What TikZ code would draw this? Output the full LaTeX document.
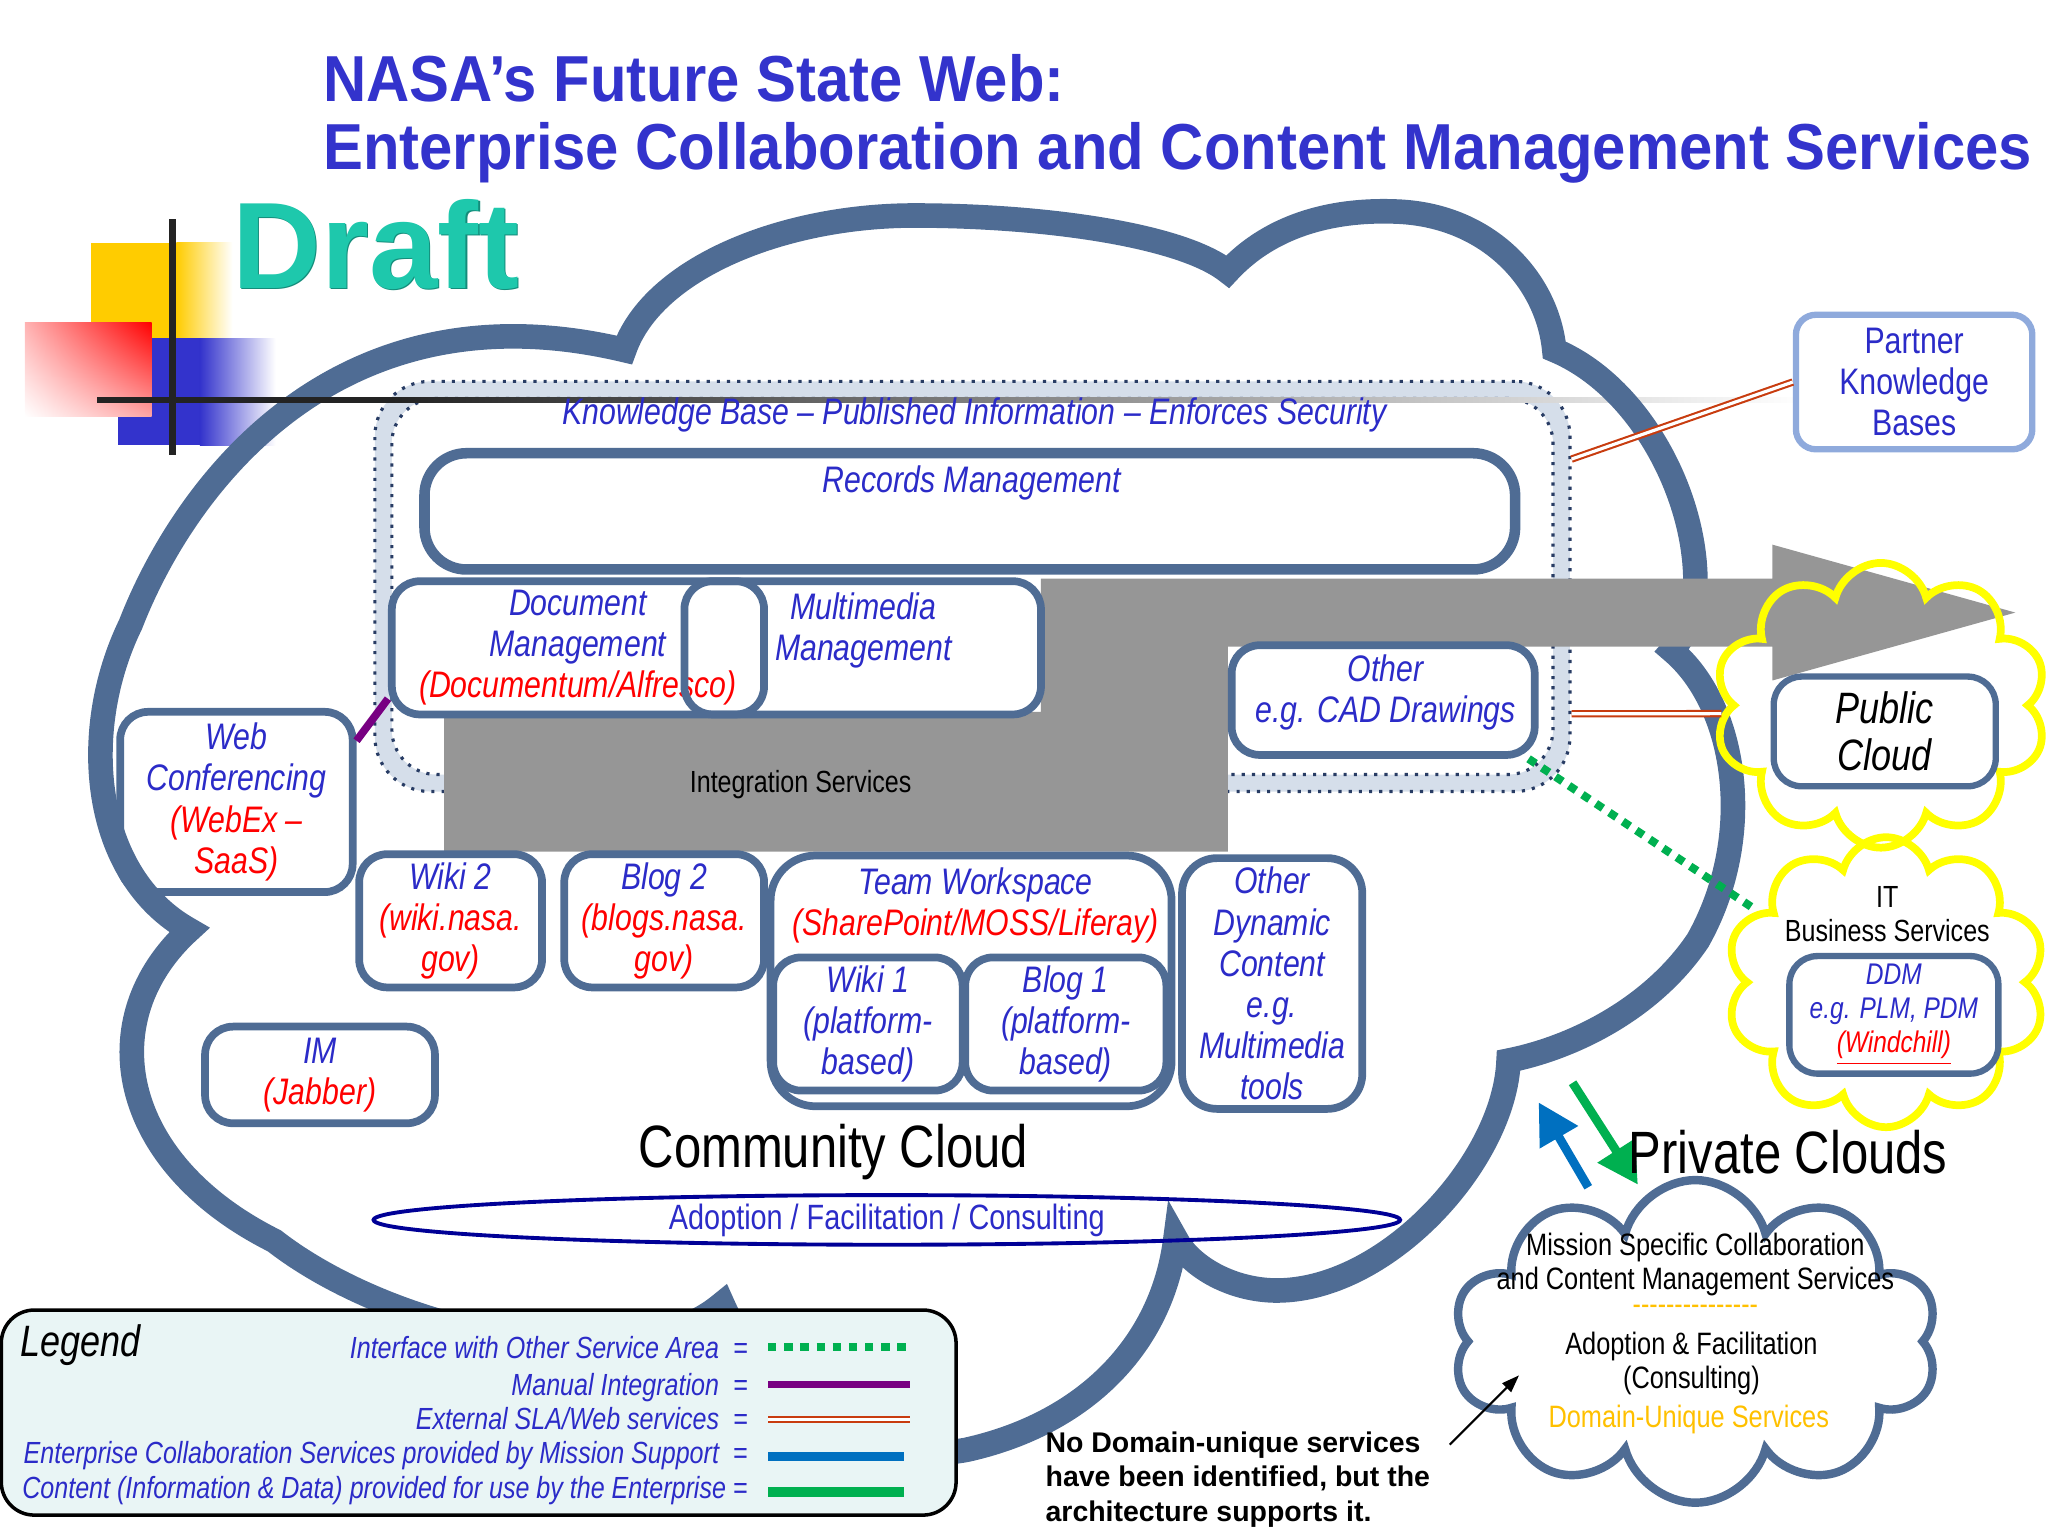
\documentclass[tikz,border=0pt]{standalone}
\usepackage{fontspec}
\setmainfont{Liberation Sans}
\newfontfamily\narrowfont[FakeStretch=0.82]{Liberation Sans}
\newfontfamily\titlefont[FakeStretch=0.92]{Liberation Sans}
\usetikzlibrary{positioning,arrows.meta,shapes.geometric,shapes.symbols,shadings}
\definecolor{CloudBlue}{RGB}{79,108,148}
\definecolor{TitleBlue}{RGB}{51,51,204}
\definecolor{LabelBlue}{RGB}{43,43,200}
\definecolor{LabelRed}{RGB}{255,0,0}
\definecolor{KBFill}{RGB}{213,222,234}
\definecolor{KBDot}{RGB}{40,60,100}
\definecolor{IntGray}{RGB}{150,150,150}
\definecolor{SLARed}{RGB}{200,60,15}
\definecolor{IfaceGreen}{RGB}{0,176,80}
\definecolor{MgmtPurple}{RGB}{120,0,130}
\definecolor{EntBlue}{RGB}{0,112,192}
\definecolor{LegendFill}{RGB}{233,245,245}
\definecolor{DraftTeal}{RGB}{30,200,172}
\definecolor{DraftEdge}{RGB}{20,140,122}
\definecolor{PartnerBlue}{RGB}{143,170,220}
\definecolor{DomainGold}{RGB}{255,192,0}
\definecolor{EllipseNavy}{RGB}{0,0,150}
\definecolor{CloudYellow}{RGB}{255,255,0}
\definecolor{LogoYellow}{RGB}{255,204,0}
\definecolor{LogoBlue}{RGB}{51,51,204}
\definecolor{LogoBlack}{RGB}{35,35,35}
\newcommand{\pxu}{0.013061cm}
\newcommand{\rd}[1]{\textcolor{LabelRed}{#1}}
\newcommand{\lblfont}{\narrowfont\itshape\fontsize{10.5pt}{11.7pt}\selectfont}

\begin{document}
\begin{tikzpicture}[x=0.013061cm, y=-0.013061cm,
wh/.style 2 args={minimum width=#1*\pxu, minimum height=#2*\pxu},
svcbox/.style={draw=CloudBlue, line width=2.2pt, rounded corners=0.28cm, fill=white, inner sep=0pt, align=center, font=\lblfont, text=LabelBlue},
lbltext/.style={font=\lblfont, text=LabelBlue, align=center, inner sep=0pt},
kbband/.style={draw=KBDot, dotted, line width=0.9pt, fill=KBFill, rounded corners=0.55cm, inner sep=0pt},
cloudline/.style={draw=CloudBlue, line width=7pt, line join=miter},
puff/.style={cloud, cloud puffs=10, cloud ignores aspect, inner sep=0pt, line width=2.2pt},
sla/.style={draw=SLARed, line width=0.6pt, double=white, double distance=0.9pt},
iface/.style={draw=IfaceGreen, line width=2.3pt, dash pattern=on 2.4pt off 2.2pt},
manual/.style={draw=MgmtPurple, line width=2.2pt},
plainlbl/.style={font=\narrowfont\fontsize{8.7pt}{9.7pt}\selectfont, align=center, inner sep=0pt},
legtext/.style={font=\narrowfont\itshape\fontsize{8.7pt}{9.8pt}\selectfont, text=LabelBlue, inner sep=0pt},
bigarrow/.style={line width=2.5pt, -{Triangle[length=11.5pt, width=12pt]}},
draftfont/.style={inner sep=0pt, font=\bfseries\fontsize{35pt}{38pt}\selectfont}
]
\useasboundingbox (0,0) rectangle (1568,1174);

% logo
\fill[LogoYellow] (70,186) rectangle (135,259);
\shade[left color=LogoYellow, right color=white] (135,186) rectangle (178,259);
\fill[LogoBlue] (90,259) rectangle (153,341);
\shade[left color=LogoBlue, right color=white] (153,259) rectangle (211,341);
\shade[upper right=red, upper left=red!30, lower right=red!35, lower left=white] (19,247) rectangle (116,319);
\fill[LogoBlack] (129.5,168) rectangle (134.5,348);

% title
\node[anchor=base west, inner sep=0pt, text=TitleBlue, font=\titlefont\bfseries\fontsize{18.5pt}{22pt}\selectfont] (title1) at (247,78) {NASA’s Future State Web:};
\node[anchor=base west, inner sep=0pt, text=TitleBlue, font=\titlefont\bfseries\fontsize{18.5pt}{22pt}\selectfont] (title2) at (247,130) {Enterprise Collaboration and Content Management Services};
\node[draftfont, text=DraftEdge] (draftedge) at (289,188) {Draft};
\node[draftfont, text=DraftTeal] (draft) at (288,187) {Draft};

% knowledge base region
\node[kbband, wh={915}{314}] (kb) at (744.5,449) {};
\node[kbband, fill=white, rounded corners=0.45cm, wh={889}{288}] (kbcore) at (kb.center) {};
\shade[left color=LogoBlack, right color=white] (300,304) rectangle (1380,308.5);
\node[lbltext] (kbtitle) at (746,318) {Knowledge Base – Published Information – Enforces Security};
\node[svcbox, line width=3pt, rounded corners=0.42cm, wh={835}{89}] (records) at (742.5,391.5) {};
\node[lbltext] (recordslbl) at (744,370) {Records Management};

\node[svcbox, wh={178}{138}] (webconf) at (181,614) {Web\\Conferencing\\\rd{(WebEx –}\\\rd{SaaS)}};

% community cloud
\draw[cloudline] (145,712)
  .. controls (70,670) and (60,560) .. (100,478)
  .. controls (140,375) and (255,215) .. (478,268)
  .. controls (500,205) and (600,165) .. (700,165)
  .. controls (800,165) and (905,180) .. (940,208)
  .. controls (975,170) and (1025,160) .. (1070,162)
  .. controls (1140,165) and (1185,215) .. (1190,268)
  .. controls (1255,295) and (1300,380) .. (1298,450)
  .. controls (1297,470) and (1292,485) .. (1280,498)
  .. controls (1330,540) and (1345,640) .. (1300,720)
  .. controls (1265,772) and (1205,802) .. (1155,812)
  .. controls (1152,890) and (1060,990) .. (975,988)
  .. controls (940,987) and (910,968) .. (900,948)
  .. controls (890,1030) and (830,1090) .. (740,1110)
  .. controls (660,1125) and (580,1060) .. (553,998)
  .. controls (480,1060) and (300,1020) .. (210,950)
  .. controls (90,890) and (70,780) .. cycle;
\fill[LogoBlack] (74,304) rectangle (300,308.5);

% integration services arrow
\fill[IntGray] (340,545) -- (340,652) -- (940,652) -- (940,495) -- (1357,495) -- (1357,521)
  -- (1543,469) -- (1357,417) -- (1357,443) -- (797,443) -- (797,545) -- cycle;
\node[plainlbl] (integ) at (613,601) {Integration Services};

% service boxes
\node[svcbox, wh={285}{102}] (doc) at (442.5,496) {Document\\Management\\\rd{(Documentum/Alfresco)}};
\node[svcbox, fill=none, wh={273}{102}] (mm) at (660.5,496) {};
\node[lbltext] (mmlbl) at (661,483) {Multimedia\\Management};
\node[svcbox, wh={232}{84}] (othercad) at (1059,536) {};
\node[lbltext] (othercadlbl) at (1061,530) {Other\\e.g. CAD Drawings};
\node[svcbox, wh={140}{102}] (wiki2) at (345,705) {Wiki 2\\\rd{(wiki.nasa.}\\\rd{gov)}};
\node[svcbox, wh={153}{102}] (blog2) at (508.5,705) {Blog 2\\\rd{(blogs.nasa.}\\\rd{gov)}};
\node[svcbox, rounded corners=0.45cm, wh={307}{192}] (team) at (743.5,751) {};
\node[lbltext] (teamlbl) at (747,693) {Team Workspace\\\rd{(SharePoint/MOSS/Liferay)}};
\node[svcbox, wh={145}{102}] (wiki1) at (664.5,784) {Wiki 1\\(platform-\\based)};
\node[svcbox, wh={154}{102}] (blog1) at (816,784) {Blog 1\\(platform-\\based)};
\node[svcbox, rounded corners=0.35cm, wh={138}{192}] (otherdyn) at (974,753) {Other\\Dynamic\\Content\\e.g.\\Multimedia\\tools};
\node[svcbox, wh={176}{74}] (im) at (245,823) {IM\\\rd{(Jabber)}};

% partner, public and IT clouds
\node[draw=PartnerBlue, line width=1.8pt, rounded corners=0.2cm, fill=white, wh={181}{103}, align=center, inner sep=0pt, text=LabelBlue, font=\narrowfont\fontsize{10.5pt}{11.7pt}\selectfont] (partner) at (1465.5,292.5) {Partner\\Knowledge\\Bases};
\node[puff, draw=CloudYellow, wh={255}{218}] (pubcloud) at (1440,540) {};
\node[puff, draw=CloudYellow, wh={245}{222}] (itcloud) at (1444,752) {};
\node[svcbox, line width=1.8pt, wh={170}{84}, text=black, font=\narrowfont\itshape\fontsize{12.5pt}{13.4pt}\selectfont] (pubbox) at (1443,560) {Public\\Cloud};
\node[plainlbl] (itlbl) at (1445,700) {IT\\Business Services};
\node[svcbox, line width=1.8pt, wh={160}{90}, font=\narrowfont\itshape\fontsize{8.5pt}{9.7pt}\selectfont] (ddm) at (1450,777) {DDM\\e.g. PLM, PDM\\\rd{\underline{(Windchill)}}};

% connectors
\draw[sla] (kb.12.8) -- (partner.west);
\draw[sla] (kb.-12.9) -- (pubcloud.183);
\draw[iface] (othercad.-22) -- (itcloud.151);
\draw[manual] (webconf.27) -- (doc.195);

% private clouds
\node[puff, draw=CloudBlue, line width=2.4pt, wh={372}{247}] (privcloud) at (1298,1027) {};
\node[plainlbl, font=\narrowfont\fontsize{8.8pt}{9.7pt}\selectfont] (privlbl) at (1298,968) {Mission Specific Collaboration\\and Content Management Services};
\node[plainlbl, text=DomainGold] (privdash) at (1298,1003) {{-}{-}{-}{-}{-}{-}{-}{-}{-}{-}{-}{-}{-}{-}{-}};
\node[plainlbl, font=\narrowfont\fontsize{8.8pt}{9.7pt}\selectfont] (adoptlbl) at (1295,1044) {Adoption \& Facilitation\\(Consulting)};
\node[plainlbl, text=DomainGold, font=\narrowfont\fontsize{8.8pt}{9.7pt}\selectfont] (domainlbl) at (1293,1087) {Domain-Unique Services};
\coordinate (upTail) at (1216,909);
\coordinate (upTip) at (1178,844);
\coordinate (downTail) at (1204,829);
\coordinate (downTip) at (1254,907);
\draw[bigarrow, EntBlue] (upTail) -- (upTip);
\draw[bigarrow, IfaceGreen] (downTail) -- (downTip);
\node[inner sep=0pt, font=\narrowfont\fontsize{17pt}{20pt}\selectfont] (privttl) at (1369,882) {Private Clouds};

% community cloud labels
\node[inner sep=0pt, font=\narrowfont\fontsize{17pt}{20pt}\selectfont] (commttl) at (638,882) {Community Cloud};
\node[draw=EllipseNavy, line width=1.1pt, ellipse, inner sep=0pt, wh={786}{38}] (adopt) at (679,934) {};
\node[inner sep=0pt, text=LabelBlue, font=\narrowfont\fontsize{10pt}{12pt}\selectfont] (adoptttl) at (adopt.center) {Adoption / Facilitation / Consulting};

% legend
\node[draw=black, line width=1pt, fill=LegendFill, rounded corners=0.33cm, wh={731}{157}] (legend) at (366.5,1081.5) {};
\node[anchor=west, inner sep=0pt, font=\narrowfont\itshape\fontsize{12.5pt}{14pt}\selectfont] (legendttl) at (15,1030) {Legend};
\node[legtext, anchor=mid east] (key1) at (573,1033) {Interface with Other Service Area~~=};
\node[legtext, anchor=mid east] (key2) at (573,1061) {Manual Integration~~=};
\node[legtext, anchor=mid east] (key3) at (573,1087) {External SLA/Web services~~=};
\node[legtext, anchor=mid east] (key4) at (573,1113) {Enterprise Collaboration Services provided by Mission Support~~=};
\node[legtext, anchor=mid east] (key5) at (573,1140) {Content (Information \& Data) provided for use by the Enterprise =};
\draw[iface] (588,1031) -- (698,1031);
\draw[manual] (588,1060) -- (697,1060);
\draw[sla] (588,1087) -- (697,1087);
\draw[EntBlue, line width=2.6pt] (588,1115) -- (692,1115);
\draw[IfaceGreen, line width=2.8pt] (588,1142) -- (692,1142);

% note
\node[anchor=north west, align=left, inner sep=0pt, font=\bfseries\fontsize{8.1pt}{9.7pt}\selectfont] (note) at (800,1096) {No Domain-unique services\\have been identified, but the\\architecture supports it.};
\coordinate (noteTail) at (1110,1106);
\coordinate (noteTip) at (1163,1053);
\draw[line width=0.6pt, -{Triangle[length=5pt, width=3.5pt]}] (noteTail) -- (noteTip);
\end{tikzpicture}
\end{document}
